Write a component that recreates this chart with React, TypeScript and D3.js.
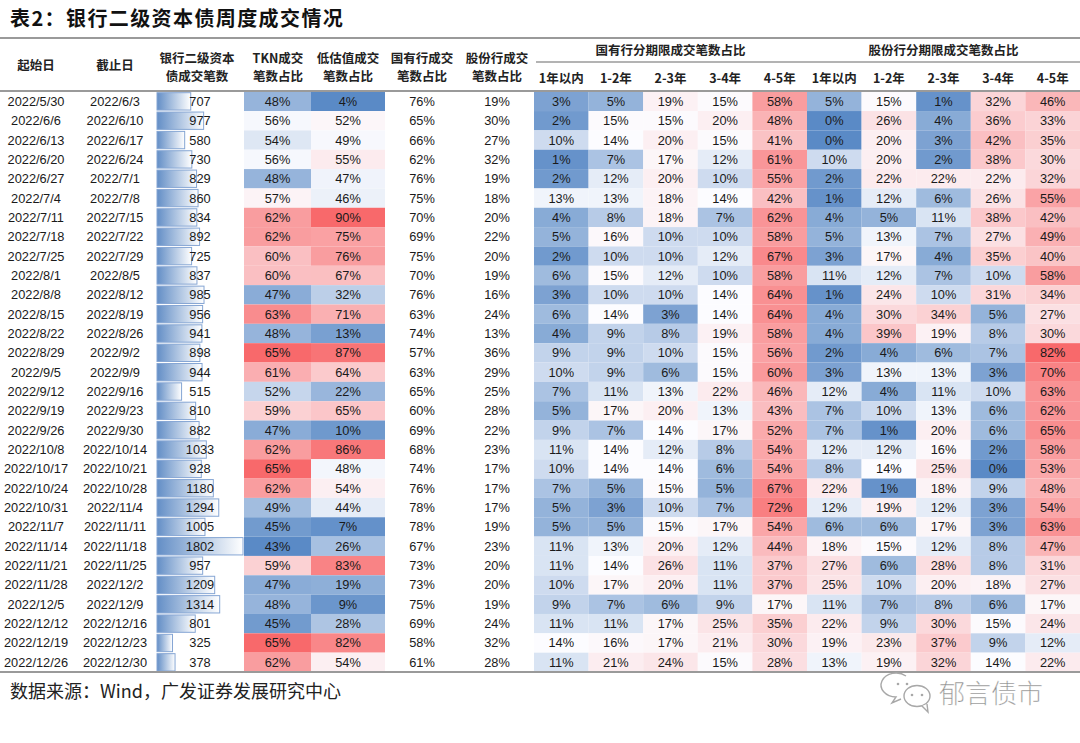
import React from "react";
import * as d3 from "d3";

const starts = ["2022/5/30","2022/6/6","2022/6/13","2022/6/20","2022/6/27","2022/7/4","2022/7/11","2022/7/18","2022/7/25","2022/8/1","2022/8/8","2022/8/15","2022/8/22","2022/8/29","2022/9/5","2022/9/12","2022/9/19","2022/9/26","2022/10/8","2022/10/17","2022/10/24","2022/10/31","2022/11/7","2022/11/14","2022/11/21","2022/11/28","2022/12/5","2022/12/12","2022/12/19","2022/12/26"];
const ends = ["2022/6/3","2022/6/10","2022/6/17","2022/6/24","2022/7/1","2022/7/8","2022/7/15","2022/7/22","2022/7/29","2022/8/5","2022/8/12","2022/8/19","2022/8/26","2022/9/2","2022/9/9","2022/9/16","2022/9/23","2022/9/30","2022/10/14","2022/10/21","2022/10/28","2022/11/4","2022/11/11","2022/11/18","2022/11/25","2022/12/2","2022/12/9","2022/12/16","2022/12/23","2022/12/30"];
const counts = [707,977,580,730,829,860,834,892,725,837,985,956,941,898,944,515,810,882,1033,928,1180,1294,1005,1802,957,1209,1314,801,325,378];
const tknShare = [48,56,54,56,48,57,62,62,60,60,47,63,48,65,61,52,59,47,62,65,62,49,45,43,59,47,48,45,65,62];
const lowValShare = [4,52,49,55,47,46,90,75,76,67,32,71,13,87,64,22,65,10,86,48,54,44,7,26,83,19,9,28,82,54];
const soeShare = [76,65,66,62,76,75,70,69,75,70,76,63,74,57,63,65,60,69,68,74,76,78,78,67,73,73,75,69,58,61];
const jsbShare = [19,30,27,32,19,18,20,22,20,19,16,24,13,36,29,25,28,22,23,17,17,17,19,23,20,20,19,24,32,28];

const soeT1 = [3,2,10,1,2,13,4,5,2,6,3,6,4,9,10,7,5,9,11,10,7,5,5,11,11,10,9,11,14,11];
const soeT2 = [5,15,14,7,12,13,8,16,10,15,10,14,9,9,9,11,17,7,14,14,5,3,5,13,14,17,7,11,16,21];
const soeT3 = [19,15,20,17,20,18,18,10,10,12,10,3,8,10,6,13,20,14,12,14,15,10,15,20,26,20,6,17,17,24];
const soeT4 = [15,20,15,12,10,14,7,10,12,10,14,14,19,15,15,22,13,17,8,6,5,7,17,12,11,11,9,25,21,15];
const soeT5 = [58,48,41,61,55,42,62,58,67,58,64,64,58,56,60,46,43,52,54,54,67,72,54,44,37,37,17,35,30,28];
const jsbT1 = [5,0,0,10,2,1,4,5,3,11,1,4,4,2,3,12,7,7,12,8,22,12,6,18,27,25,11,22,19,13];
const jsbT2 = [15,26,20,20,22,12,5,13,17,12,24,30,39,4,13,4,10,1,12,14,1,19,6,15,6,10,7,9,23,19];
const jsbT3 = [1,4,3,2,22,6,11,7,4,7,10,34,19,6,13,11,13,20,16,25,18,12,17,12,28,20,8,30,37,32];
const jsbT4 = [32,36,42,38,22,26,38,27,35,10,31,5,8,7,3,10,6,6,2,0,9,3,3,8,8,18,6,15,9,14];
const jsbT5 = [46,33,35,30,32,55,42,49,40,58,34,27,30,82,70,63,62,65,58,53,48,54,63,47,31,27,17,24,12,22];

const termLabels = ["1年以内","1-2年","2-3年","3-4年","4-5年"];
const termSeries = [soeT1, soeT2, soeT3, soeT4, soeT5, jsbT1, jsbT2, jsbT3, jsbT4, jsbT5];

const W = 1080, H = 743;
const NUM_FONT = "'Liberation Sans', Arial, sans-serif";
const CJK_FONT = "'Noto Sans CJK SC', sans-serif";
const BLUE = "#5A8AC6", WHITE = "#FCFCFF", RED = "#F8696B";

function colorScale(values: number[]) {
  const sorted = [...values].sort((a, b) => a - b);
  const med = d3.quantile(sorted, 0.5) as number;
  return d3.scaleLinear<string>()
    .domain([d3.min(sorted) as number, med, d3.max(sorted) as number])
    .range([BLUE, WHITE, RED])
    .interpolate(d3.interpolateRgb);
}

export default function App() {
  const idx = d3.range(starts.length);
  const y = d3.scaleBand<number>().domain(idx).range([91.7, 672]);
  const termX = d3.scaleBand<number>().domain(d3.range(10)).range([534, 1080]);
  const barX = d3.scaleLinear().domain([0, d3.max(counts) as number]).range([157, 243]);

  const tknColor = colorScale(tknShare);
  const lowColor = colorScale(lowValShare);
  const termColor = colorScale(termSeries.flat());

  const rh = y.bandwidth();
  const textY = (i: number) => (y(i) as number) + rh / 2 + 4.5;

  const headers = [
    { x: 36, lines: ["起始日"] },
    { x: 115, lines: ["截止日"] },
    { x: 197, lines: ["银行二级资本", "债成交笔数"] },
    { x: 278, lines: ["TKN成交", "笔数占比"] },
    { x: 348, lines: ["低估值成交", "笔数占比"] },
    { x: 422, lines: ["国有行成交", "笔数占比"] },
    { x: 497, lines: ["股份行成交", "笔数占比"] },
  ];

  const heatCols = [
    { x0: 244, x1: 311, vals: tknShare, color: tknColor },
    { x0: 311, x1: 385, vals: lowValShare, color: lowColor },
  ];
  const plainCols = [
    { cx: 422, vals: soeShare },
    { cx: 497, vals: jsbShare },
  ];

  return (
    <svg width={W} height={H} style={{ position: "absolute", left: 0, top: 0, background: "#fff" }}>
      <defs>
        <linearGradient id="barGrad" x1="0" x2="1" y1="0" y2="0">
          <stop offset="0" stopColor="#638EC6" />
          <stop offset="1" stopColor="#FFFFFF" />
        </linearGradient>
      </defs>
      <rect width={W} height={H} fill="#fff" />
      {/* title */}
      <text x={10} y={26} fontFamily={CJK_FONT} fontWeight={700} fontSize={20} fill="#111" letterSpacing={1.4}>
        表2：银行二级资本债周度成交情况
      </text>

      {/* heat cells */}
      {heatCols.map((c, ci) => idx.map(i => (
        <rect key={`h${ci}-${i}`} x={c.x0} y={y(i)} width={c.x1 - c.x0} height={rh} fill={c.color(c.vals[i])} />
      )))}
      {termSeries.map((s, ci) => idx.map(i => (
        <rect key={`t${ci}-${i}`} x={termX(ci)} y={y(i)} width={termX.bandwidth()} height={rh} fill={termColor(s[i])} />
      )))}

      {/* data bars */}
      {idx.map(i => (
        <rect key={`b${i}`} x={barX(0)} y={(y(i) as number) + 1} width={barX(counts[i]) - barX(0)} height={rh - 2}
          fill="url(#barGrad)" stroke="#86A6D4" strokeWidth={1} />
      ))}

      {/* lines */}
      <line x1={0} x2={W} y1={38} y2={38} stroke="#9a9a9a" strokeWidth={2} />
      <line x1={536} x2={W} y1={62} y2={62} stroke="#9a9a9a" strokeWidth={1.5} />
      <line x1={0} x2={W} y1={91} y2={91} stroke="#9a9a9a" strokeWidth={2} />
      <line x1={0} x2={W} y1={672} y2={672} stroke="#9a9a9a" strokeWidth={2} />

      {/* headers */}
      {headers.map((h, hi) => h.lines.length === 1 ? (
        <text key={`hd${hi}`} x={h.x} y={69.5} textAnchor="middle" fontFamily={CJK_FONT} fontWeight={700} fontSize={12.5} fill="#222">{h.lines[0]}</text>
      ) : (
        <g key={`hd${hi}`}>
          <text x={h.x} y={63} textAnchor="middle" fontFamily={CJK_FONT} fontWeight={700} fontSize={12.5} fill="#222">{h.lines[0]}</text>
          <text x={h.x} y={81} textAnchor="middle" fontFamily={CJK_FONT} fontWeight={700} fontSize={12.5} fill="#222">{h.lines[1]}</text>
        </g>
      ))}
      <text x={(termX(0) as number + (termX(4) as number) + termX.bandwidth()) / 2} y={55} textAnchor="middle" fontFamily={CJK_FONT} fontWeight={700} fontSize={12.5} fill="#222">国有行分期限成交笔数占比</text>
      <text x={(termX(5) as number + (termX(9) as number) + termX.bandwidth()) / 2} y={55} textAnchor="middle" fontFamily={CJK_FONT} fontWeight={700} fontSize={12.5} fill="#222">股份行分期限成交笔数占比</text>
      {d3.range(10).map(ci => (
        <text key={`tl${ci}`} x={(termX(ci) as number) + termX.bandwidth() / 2} y={83} textAnchor="middle" fontFamily={CJK_FONT} fontWeight={700} fontSize={12.5} fill="#222">{termLabels[ci % 5]}</text>
      ))}

      {/* body text */}
      {idx.map(i => (
        <g key={`r${i}`} fontFamily={NUM_FONT} fontSize={12.8} fill="#1a1a1a" textAnchor="middle">
          <text x={36} y={textY(i)}>{starts[i]}</text>
          <text x={115} y={textY(i)}>{ends[i]}</text>
          <text x={200} y={textY(i)}>{counts[i]}</text>
          {heatCols.map((c, ci) => (
            <text key={ci} x={(c.x0 + c.x1) / 2} y={textY(i)}>{c.vals[i]}%</text>
          ))}
          {plainCols.map((c, ci) => (
            <text key={`p${ci}`} x={c.cx} y={textY(i)}>{c.vals[i]}%</text>
          ))}
          {termSeries.map((s, ci) => (
            <text key={`ts${ci}`} x={(termX(ci) as number) + termX.bandwidth() / 2} y={textY(i)}>{s[i]}%</text>
          ))}
        </g>
      ))}

      {/* source */}
      <text x={10} y={698} fontFamily={CJK_FONT} fontSize={18} fill="#222">数据来源：Wind，广发证券发展研究中心</text>

      {/* watermark */}
      <g stroke="#a8a8a8" strokeWidth={1.4} fill="#fff">
        <path d="M 906 676 a 15 12 0 1 0 -10 21 l -4 6 l 9 -4" fill="#fff" />
        <ellipse cx={917} cy={696} rx={13} ry={10.5} />
        <path d="M 922 706 l 6 6 l -1 -8" fill="#fff" stroke="#a8a8a8" />
        <circle cx={912} cy={695} r={1.3} fill="#a8a8a8" stroke="none" />
        <circle cx={922} cy={695} r={1.3} fill="#a8a8a8" stroke="none" />
        <circle cx={898} cy={684} r={1.3} fill="#a8a8a8" stroke="none" />
        <circle cx={907} cy={684} r={1.3} fill="#a8a8a8" stroke="none" />
      </g>
      <text x={939} y={703} fontFamily={CJK_FONT} fontWeight={300} fontSize={26} fill="#8a8a8a" stroke="#fff" strokeWidth={0.3}>郁言债市</text>
    </svg>
  );
}
